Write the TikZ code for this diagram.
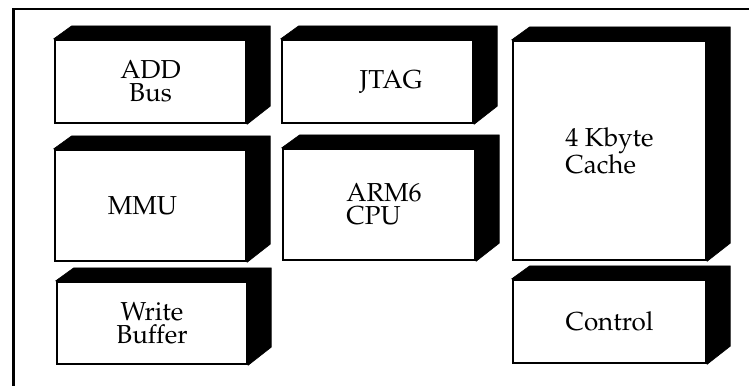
\documentclass[tikz,border=0pt]{standalone}
\usepackage[T1]{fontenc}
\renewcommand{\rmdefault}{ppl}
\usetikzlibrary{backgrounds}
\pgfdeclarelayer{paper}
\pgfsetlayers{paper,background,main}
\tikzset{
  face/.style={draw=black, line width=2.4pt, fill=white, inner sep=0pt,
    font=\fontsize{26}{23}\selectfont, text=black},
  slab/.style={fill=black, draw=black, line width=0.6pt, line join=miter},
  frameline/.style={draw=black, line width=2.6pt}
}
\newcommand{\blockbox}[7]{%
  % #1 name, #2 x0, #3 y0, #4 x1, #5 y1, #6 align, #7 text
  \node[face, align=#6, minimum width={(#4-#2)*1pt}, minimum height={(#5-#3)*1pt}]
    (#1) at ({(#2+#4)/2},{(#3+#5)/2}) {#7};
  \begin{scope}[on background layer]
    \fill[slab] (#1.north west) -- ++(18,-13) -- ([xshift=23pt,yshift=13pt]#1.north east)
      -- ([xshift=23pt,yshift=18pt]#1.south east) -- (#1.south east) -- (#1.north east) -- cycle;
  \end{scope}
}
\begin{document}
\begin{tikzpicture}[x=1pt,y=-1pt]
\useasboundingbox (0,0) rectangle (749,386);
\begin{pgfonlayer}{paper}
\fill[white] (0,0) rectangle (749,386);
\end{pgfonlayer}
\coordinate (ftl) at (13.5,9);
\coordinate (ftr) at (749,9);
\coordinate (fbl) at (13.5,386);
\draw[frameline] (ftr) -- (ftl) -- (fbl);

\blockbox{addbus}{55}{40}{246}{123}{center}{ADD\\Bus}
\blockbox{jtag}{282}{40}{473}{123}{center}{\hspace*{27pt}JTAG}
\blockbox{cache}{513}{41}{706}{260}{left}{4 Kbyte\\Cache}
\blockbox{mmu}{55}{150}{246}{261}{center}{MMU\hspace*{16pt}}
\blockbox{arm}{283}{149}{475}{260}{left}{\hspace*{10pt}ARM6\\\hspace*{10pt}CPU}
\blockbox{wbuf}{57}{282}{247}{364}{center}{Write\\Buffer}
\blockbox{control}{513}{280}{706}{363}{center}{Control}
\end{tikzpicture}
\end{document}
